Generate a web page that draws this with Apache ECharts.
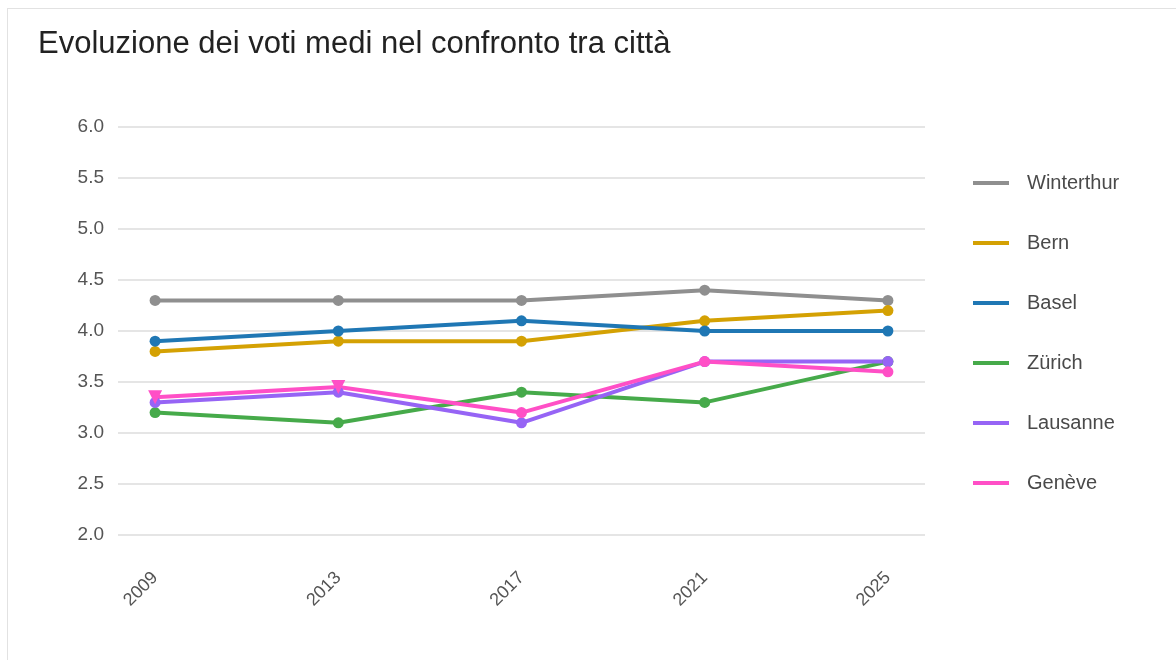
<!DOCTYPE html>
<html>
<head>
<meta charset="utf-8">
<script src="https://cdn.jsdelivr.net/npm/echarts@6/dist/echarts.min.js"></script>
<style>
  html, body { margin: 0; padding: 0; background: #fff; }
  #chart { position: absolute; left: 0; top: 0; width: 1176px; height: 660px; }
  #frame {
    position: absolute; left: 7px; top: 8px; right: 0; bottom: 0;
    border-top: 1px solid #e2e2e2; border-left: 1px solid #e2e2e2;
    pointer-events: none;
  }
</style>
</head>
<body>
<div id="chart"></div>
<div id="frame"></div>
<script>
// anni e voti medi per città
const years = [2009, 2013, 2017, 2021, 2025]
const yTicks = [2.0, 2.5, 3.0, 3.5, 4.0, 4.5, 5.0, 5.5, 6.0]

const winterthur = [4.3, 4.3, 4.3, 4.4, 4.3]
const bern = [3.8, 3.9, 3.9, 4.1, 4.2]
const basel = [3.9, 4.0, 4.1, 4.0, 4.0]
const zurich = [3.2, 3.1, 3.4, 3.3, 3.7]
const lausanne = [3.3, 3.4, 3.1, 3.7, 3.7]
const geneve = [3.35, 3.45, 3.2, 3.7, 3.6]

const cities = [
  { name: 'Winterthur', values: winterthur, color: '#8f8f8f' },
  { name: 'Bern', values: bern, color: '#d4a103' },
  { name: 'Basel', values: basel, color: '#1f77b4' },
  { name: 'Zürich', values: zurich, color: '#46aa4a' },
  { name: 'Lausanne', values: lausanne, color: '#9664f5' },
  { name: 'Genève', values: geneve, color: '#ff4fc6' }
]

const chart = echarts.init(document.getElementById('chart'))

const series = cities.map(c => ({
  name: c.name,
  type: 'line',
  data: c.values.map((v, i) => {
    const p = { value: [years[i], v] }
    // i primi due punti di Genève sono triangoli rovesciati
    if (c.name === 'Genève' && i < 2) {
      p.symbol = 'triangle'
      p.symbolRotate = 180
      p.symbolSize = 14
    }
    return p
  }),
  color: c.color,
  symbol: 'circle',
  symbolSize: 11,
  lineStyle: { width: 4 },
  emphasis: { disabled: true }
}))

chart.setOption({
  backgroundColor: 'transparent',
  animation: false,
  title: {
    text: 'Evoluzione dei voti medi nel confronto tra città',
    left: 33,
    top: 24,
    textStyle: {
      fontFamily: 'Liberation Sans',
      fontSize: 31,
      fontWeight: 'normal',
      color: '#222'
    }
  },
  legend: {
    orient: 'vertical',
    left: 968,
    top: 168,
    itemWidth: 36,
    itemHeight: 4,
    itemGap: 40,
    icon: 'rect',
    textStyle: { fontFamily: 'Liberation Sans', fontSize: 20, color: '#4a4a4a', padding: [0, 0, 0, 13] },
    data: cities.map(c => ({ name: c.name, itemStyle: { color: c.color } }))
  },
  grid: { left: 118, right: 251, top: 127, bottom: 125 },
  xAxis: {
    type: 'value',
    min: 2008.19,
    max: 2025.81,
    axisLine: { show: false },
    axisTick: { show: false },
    splitLine: { show: false },
    axisLabel: {
      customValues: years,
      rotate: 45,
      margin: 40,
      fontFamily: 'Liberation Sans',
      fontSize: 18,
      color: '#555',
      formatter: v => String(v)
    }
  },
  yAxis: {
    type: 'value',
    min: 2.0,
    max: 6.0,
    interval: 0.5,
    axisLine: { show: false },
    axisTick: { show: false },
    splitLine: { lineStyle: { color: '#dcdcdc', width: 1.5 } },
    axisLabel: {
      margin: 14,
      fontFamily: 'Liberation Sans',
      fontSize: 19,
      color: '#555',
      formatter: v => v.toFixed(1)
    }
  },
  series: series
})
</script>
</body>
</html>
